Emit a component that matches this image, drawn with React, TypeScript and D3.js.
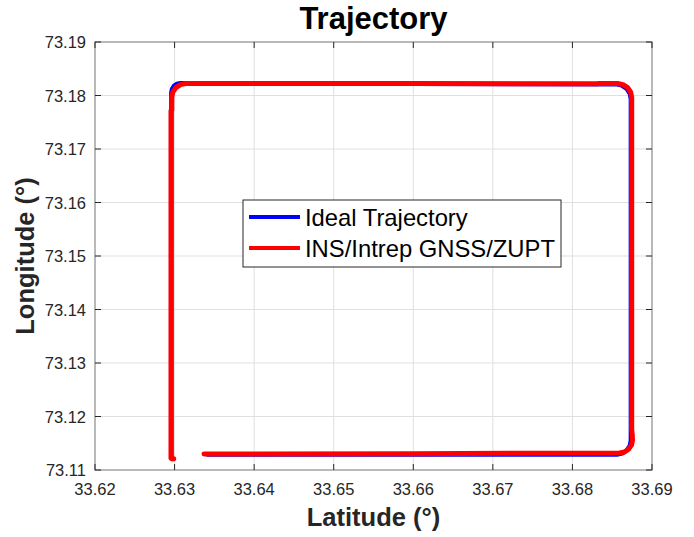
import React from "react";
import * as d3 from "d3";

// Trajectory in geographic coordinates: [latitude, longitude]
const idealTrajectory: [number, number][] = [
  [33.6340, 73.11290],
  [33.6600, 73.11291],
  [33.68559, 73.11290],
  [33.68626, 73.11310],
  [33.68684, 73.11367],
  [33.68722, 73.11452],
  [33.68735, 73.11552],
  [33.68735, 73.15000],
  [33.68735, 73.17932],
  [33.68721, 73.18039],
  [33.68680, 73.18130],
  [33.68618, 73.18191],
  [33.68546, 73.18212],
  [33.6600, 73.18218],
  [33.63073, 73.18228],
  [33.63030, 73.18215],
  [33.62993, 73.18179],
  [33.62969, 73.18124],
  [33.62960, 73.18060],
  [33.62960, 73.15000],
  [33.62960, 73.11220],
];

const insTrajectory: [number, number][] = [
  [33.6337, 73.11300],
  [33.6600, 73.11305],
  [33.68592, 73.11318],
  [33.68654, 73.11337],
  [33.68707, 73.11389],
  [33.68743, 73.11468],
  [33.68755, 73.11561],
  [33.68752, 73.11660],
  [33.68745, 73.11760],
  [33.68745, 73.15000],
  [33.68745, 73.17962],
  [33.68732, 73.18062],
  [33.68694, 73.18147],
  [33.68636, 73.18204],
  [33.68569, 73.18224],
  [33.68320, 73.18224],
  [33.68310, 73.18219],
  [33.66000, 73.18224],
  [33.63141, 73.18224],
  [33.63074, 73.18204],
  [33.63017, 73.18147],
  [33.62978, 73.18062],
  [33.62965, 73.17962],
  [33.62965, 73.17730],
  [33.62955, 73.17720],
  [33.62955, 73.15000],
  [33.62955, 73.11220],
  [33.62970, 73.11205],
  [33.62990, 73.11210],
];

const xTicks = [33.62, 33.63, 33.64, 33.65, 33.66, 33.67, 33.68, 33.69];
const yTicks = [73.11, 73.12, 73.13, 73.14, 73.15, 73.16, 73.17, 73.18, 73.19];

const seriesNames = ["Ideal Trajectory", "INS/Intrep GNSS/ZUPT"];
const seriesColors = ["#0000ff", "#ff0000"];

const W = 694;
const H = 537;
const margin = { left: 95, right: 42, top: 42, bottom: 67 };

export default function App() {
  const x = d3
    .scaleLinear()
    .domain([33.62, 33.69])
    .range([margin.left, W - margin.right]);
  const y = d3
    .scaleLinear()
    .domain([73.11, 73.19])
    .range([H - margin.bottom, margin.top]);

  const line = d3
    .line<[number, number]>()
    .x((d) => x(d[0]))
    .y((d) => y(d[1]))
    .curve(d3.curveLinear);

  const x0 = x.range()[0];
  const x1 = x.range()[1];
  const y0 = y.range()[0];
  const y1 = y.range()[1];
  const font = "Arial, 'Liberation Sans', Helvetica, sans-serif";
  const tickLen = 6;

  const legend = { x: 243, y: 200, w: 318, h: 67 };

  return (
    <svg
      width={W}
      height={H}
      style={{ position: "absolute", left: 0, top: 0, background: "#fff" }}
      fontFamily={font}
    >
      <rect x={0} y={0} width={W} height={H} fill="#fff" />

      {/* grid */}
      <g stroke="#dfdfdf" strokeWidth={1}>
        {xTicks.slice(1, -1).map((t) => (
          <line key={"gx" + t} x1={x(t)} x2={x(t)} y1={y0} y2={y1} />
        ))}
        {yTicks.slice(1, -1).map((t) => (
          <line key={"gy" + t} x1={x0} x2={x1} y1={y(t)} y2={y(t)} />
        ))}
      </g>

      {/* trajectories */}
      <path
        d={line(idealTrajectory) || ""}
        fill="none"
        stroke={seriesColors[0]}
        strokeWidth={4.5}
        strokeLinejoin="round"
      />
      <path
        d={line(insTrajectory) || ""}
        fill="none"
        stroke={seriesColors[1]}
        strokeWidth={5}
        strokeLinejoin="round"
        strokeLinecap="round"
      />

      {/* axes box */}
      <rect
        x={x0}
        y={y1}
        width={x1 - x0}
        height={y0 - y1}
        fill="none"
        stroke="#8a8a8a"
        strokeWidth={1.2}
      />

      {/* ticks */}
      <g stroke="#262626" strokeWidth={1}>
        {xTicks.map((t) => (
          <g key={"tx" + t}>
            <line x1={x(t)} x2={x(t)} y1={y0} y2={y0 - tickLen} />
            <line x1={x(t)} x2={x(t)} y1={y1} y2={y1 + tickLen} />
          </g>
        ))}
        {yTicks.map((t) => (
          <g key={"ty" + t}>
            <line x1={x0} x2={x0 + tickLen} y1={y(t)} y2={y(t)} />
            <line x1={x1} x2={x1 - tickLen} y1={y(t)} y2={y(t)} />
          </g>
        ))}
      </g>

      {/* tick labels */}
      <g fill="#262626" fontSize={16.5}>
        {xTicks.map((t) => (
          <text key={"lx" + t} x={x(t)} y={y0 + 25} textAnchor="middle">
            {t.toFixed(2)}
          </text>
        ))}
        {yTicks.map((t) => (
          <text key={"ly" + t} x={x0 - 9} y={y(t) + 6} textAnchor="end">
            {t.toFixed(2)}
          </text>
        ))}
      </g>

      {/* title and axis labels */}
      <text
        x={(x0 + x1) / 2}
        y={29}
        textAnchor="middle"
        fontSize={31}
        fontWeight="bold"
        fill="#000"
      >
        Trajectory
      </text>
      <text
        x={(x0 + x1) / 2}
        y={526}
        textAnchor="middle"
        fontSize={25.5}
        fontWeight="bold"
        fill="#262626"
      >
        Latitude (°)
      </text>
      <text
        transform={`translate(34, ${(y0 + y1) / 2}) rotate(-90)`}
        textAnchor="middle"
        fontSize={25.5}
        fontWeight="bold"
        fill="#262626"
      >
        Longitude (°)
      </text>

      {/* legend */}
      <g>
        <rect
          x={legend.x}
          y={legend.y}
          width={legend.w}
          height={legend.h}
          fill="#fff"
          stroke="#262626"
          strokeWidth={1}
        />
        {seriesNames.map((name, i) => {
          const cy = legend.y + 17 + i * 31;
          return (
            <g key={name}>
              <line
                x1={legend.x + 6}
                x2={legend.x + 57}
                y1={cy}
                y2={cy}
                stroke={seriesColors[i]}
                strokeWidth={4}
              />
              <text
                x={legend.x + 62}
                y={cy + 8.5}
                fontSize={23.8}
                fill="#000"
              >
                {name}
              </text>
            </g>
          );
        })}
      </g>
    </svg>
  );
}
